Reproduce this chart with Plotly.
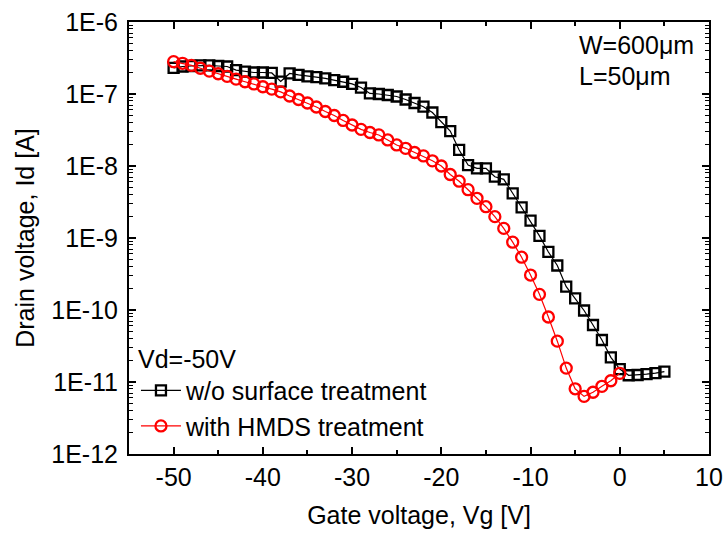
import plotly.graph_objects as go

# Transfer curves of the TFT, drain current vs gate voltage (Vd = -50 V)
vg_plain = list(range(-50, 6))
id_plain = [
    2.30e-7, 2.41e-7, 2.45e-7, 2.49e-7, 2.49e-7, 2.45e-7, 2.41e-7, 2.15e-7,
    2.05e-7, 1.99e-7, 1.99e-7, 1.96e-7, 1.49e-7, 1.93e-7, 1.84e-7, 1.76e-7,
    1.71e-7, 1.65e-7, 1.56e-7, 1.48e-7, 1.38e-7, 1.23e-7, 1.02e-7, 1.00e-7,
    9.69e-8, 9.23e-8, 8.39e-8, 7.50e-8, 6.67e-8, 5.53e-8, 4.08e-8, 3.06e-8,
    1.67e-8, 1.03e-8, 9.29e-9, 9.29e-9, 7.10e-9, 6.53e-9, 4.18e-9, 2.67e-9,
    1.74e-9, 1.07e-9, 6.40e-10, 4.15e-10, 2.11e-10, 1.45e-10, 9.84e-11,
    6.19e-11, 3.83e-11, 2.20e-11, 1.51e-11, 1.24e-11, 1.25e-11, 1.29e-11,
    1.33e-11, 1.39e-11,
]

vg_hmds = list(range(-50, 1))
id_hmds = [
    2.81e-7, 2.67e-7, 2.50e-7, 2.28e-7, 2.08e-7, 1.91e-7, 1.76e-7, 1.61e-7,
    1.48e-7, 1.38e-7, 1.26e-7, 1.17e-7, 1.07e-7, 9.38e-8, 8.39e-8, 7.50e-8,
    6.60e-8, 5.71e-8, 5.03e-8, 4.29e-8, 3.71e-8, 3.23e-8, 2.92e-8, 2.70e-8,
    2.30e-8, 1.96e-8, 1.76e-8, 1.54e-8, 1.38e-8, 1.18e-8, 1.00e-8, 7.62e-9,
    6.15e-9, 4.69e-9, 3.56e-9, 2.72e-9, 1.98e-9, 1.36e-9, 8.75e-10,
    5.41e-10, 3.06e-10, 1.65e-10, 8.00e-11, 3.69e-11, 1.56e-11, 8.05e-12,
    6.32e-12, 7.21e-12, 8.71e-12, 1.04e-11, 1.32e-11,
]

x_ticks = [-50, -40, -30, -20, -10, 0, 10]
x_labels = [str(v) for v in x_ticks]
y_exps = [-6, -7, -8, -9, -10, -11, -12]
y_ticks = [10.0 ** e for e in y_exps]
y_labels = ["1E%d" % e for e in y_exps]
y_minor = [m * 10.0 ** e for e in range(-12, -6) for m in range(2, 10)]

FONT = "Liberation Sans, Arial, sans-serif"

fig = go.Figure()
fig.add_trace(go.Scatter(
    x=vg_plain, y=id_plain, mode="lines+markers",
    name="w/o surface treatment",
    line=dict(color="black", width=1.2),
    marker=dict(symbol="square-open", size=10, color="black",
                line=dict(width=2.3, color="black")),
))
fig.add_trace(go.Scatter(
    x=vg_hmds, y=id_hmds, mode="lines+markers",
    name="with HMDS treatment",
    line=dict(color="#ff0000", width=1.2),
    marker=dict(symbol="circle-open", size=11, color="#ff0000",
                line=dict(width=2.3, color="#ff0000")),
))

axis_common = dict(
    showline=True, linecolor="black", linewidth=2, mirror="allticks",
    ticks="inside", tickcolor="black", tickwidth=1.5, ticklen=7,
    showgrid=False, zeroline=False, automargin=False,
    tickfont=dict(family=FONT, size=25, color="black"),
    title_font=dict(family=FONT, size=25, color="black"),
)

fig.update_xaxes(
    range=[-55, 10], tickvals=x_ticks, ticktext=x_labels,
    minor=dict(ticks="inside", ticklen=4, tickwidth=1.5, tickcolor="black",
               dtick=5, tick0=0),
    title_text="Gate voltage, Vg [V]", title_standoff=16,
    **axis_common,
)
fig.update_yaxes(
    type="log", range=[-12, -6],
    tickvals=y_ticks, ticktext=y_labels, ticklabelstandoff=4,
    minor=dict(ticks="inside", ticklen=4, tickwidth=1.2, tickcolor="black",
               tickvals=y_minor),
    title_text="Drain voltage, Id [A]", title_standoff=10,
    **axis_common,
)

# device geometry labels, top right corner
for text, ypos in [("W=600\u03bcm", 0.947), ("L=50\u03bcm", 0.875)]:
    fig.add_annotation(
        x=0.772, y=ypos, xref="paper", yref="paper", xanchor="left",
        yanchor="middle", showarrow=False, align="left", text=text,
        font=dict(family=FONT, size=25, color="black"),
    )

fig.update_layout(
    width=726, height=537,
    margin=dict(l=129, r=17, t=22, b=83),
    paper_bgcolor="white", plot_bgcolor="white",
    showlegend=True,
    legend=dict(
        x=0.012, y=0.275, xanchor="left", yanchor="top",
        bgcolor="rgba(0,0,0,0)",
        title=dict(text="Vd=-50V", font=dict(family=FONT, size=25, color="black")),
        font=dict(family=FONT, size=25, color="black"),
        tracegroupgap=0, itemwidth=40,
    ),
)

fig.write_html("out.html")
